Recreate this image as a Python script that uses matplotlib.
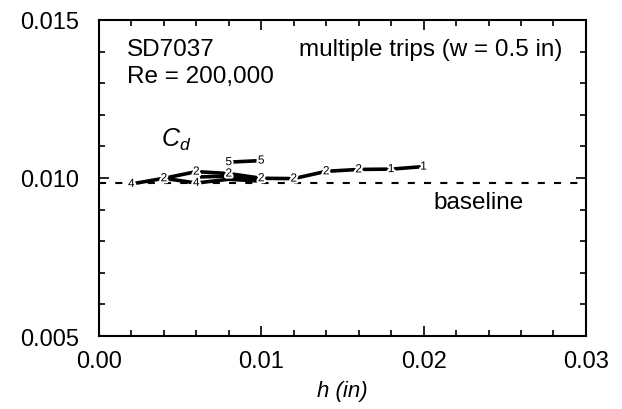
import matplotlib.pyplot as plt
import matplotlib.patheffects as pe
from matplotlib.ticker import MultipleLocator

plt.rcParams['font.family'] = ['Liberation Sans', 'DejaVu Sans']
plt.rcParams['mathtext.fontset'] = 'custom'
plt.rcParams['mathtext.it'] = 'Liberation Sans:italic'
plt.rcParams['mathtext.rm'] = 'Liberation Sans'

# trip height h (in) vs drag coefficient, number labels = trip count
h_a = [0.002, 0.004, 0.006, 0.008, 0.010, 0.012, 0.014, 0.016, 0.018, 0.020]
cd_a = [0.00981, 0.00999, 0.01020, 0.01014, 0.00999, 0.00998, 0.01021, 0.01027, 0.01028, 0.01036]
lab_a = ['4', '2', '2', '2', '2', '2', '2', '2', '1', '1']

h_b = [0.004, 0.006, 0.008, 0.010]
cd_b = [0.00999, 0.00984, 0.00996, 0.00990]
lab_b = ['', '4', '', '']

h_c = [0.006, 0.008, 0.010]
cd_c = [0.01003, 0.01006, 0.00994]
lab_c = ['', '', '']

h_5 = [0.008, 0.010]
cd_5 = [0.01050, 0.01055]
lab_5 = ['5', '5']

baseline_h = [0.0, 0.03]
baseline_cd = [0.00984, 0.00984]

fig = plt.figure(figsize=(6.22, 4.10), dpi=100)
ax = fig.add_axes([0.159, 0.178, 0.783, 0.771])

ax.plot(baseline_h, baseline_cd, color='black', lw=1.5, dashes=(3.4, 4.4))

halo = [pe.withStroke(linewidth=3, foreground='white')]
for hs, cds, labs in [(h_b, cd_b, lab_b), (h_c, cd_c, lab_c), (h_5, cd_5, lab_5), (h_a, cd_a, lab_a)]:
    ax.plot(hs, cds, color='black', lw=2.6, solid_capstyle='butt')
    for x, y, s in zip(hs, cds, labs):
        if s:
            ax.text(x, y, s, fontsize=8.5, ha='center', va='center', path_effects=halo)

ax.set_xlim(0, 0.03)
ax.set_ylim(0.005, 0.015)
ax.set_xticks([0.00, 0.01, 0.02, 0.03])
ax.set_xticklabels(['0.00', '0.01', '0.02', '0.03'])
ax.set_yticks([0.005, 0.010, 0.015])
ax.set_yticklabels(['0.005', '0.010', '0.015'])
ax.xaxis.set_minor_locator(MultipleLocator(0.002))
ax.yaxis.set_minor_locator(MultipleLocator(0.001))
ax.tick_params(which='both', direction='in', top=True, right=True, width=1.2, labelsize=17)
ax.tick_params(which='major', length=7)
ax.tick_params(which='minor', length=4)
ax.tick_params(axis='y', pad=14)
ax.tick_params(axis='x', pad=10)
for sp in ax.spines.values():
    sp.set_linewidth(1.5)

ax.set_xlabel('h (in)', fontsize=16, style='italic', labelpad=6)

ax.text(0.00172, 0.01408, 'SD7037', fontsize=17.5, va='center')
ax.text(0.00172, 0.01323, 'Re = 200,000', fontsize=17.5, va='center')
ax.text(0.02858, 0.01408, 'multiple trips (w = 0.5 in)', fontsize=17.5, va='center', ha='right')
ax.text(0.0038, 0.01123, r'$C_d$', fontsize=18, va='center')
ax.text(0.0206, 0.00924, 'baseline', fontsize=17.5, va='center')

fig.savefig('out.png', dpi=100)
